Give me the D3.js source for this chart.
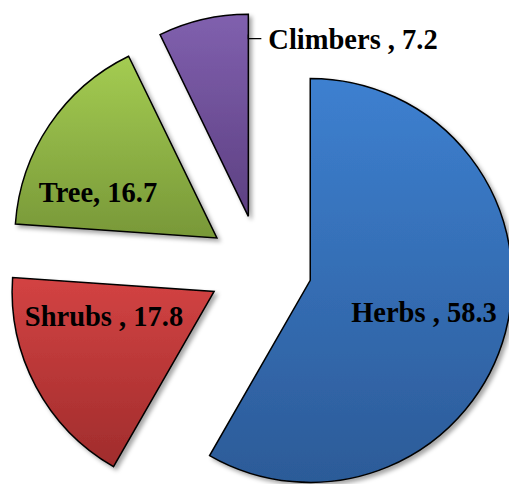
<!DOCTYPE html>
<html>
<head>
<meta charset="utf-8">
<script src="https://cdn.jsdelivr.net/npm/d3@7"></script>
<style>
  html, body { margin: 0; padding: 0; background: #fff; }
  svg { display: block; }
</style>
</head>
<body>
<div id="chart"></div>
<script>
// ---- data ----
const categories = ["Herbs", "Shrubs", "Tree", "Climbers"];
const values = [58.3, 17.8, 16.7, 7.2];
const labelTexts = ["Herbs , 58.3", "Shrubs , 17.8", "Tree, 16.7", "Climbers , 7.2"];

// ---- styles ----
const gradTop = ["#3d80d0", "#d34343", "#a4cc52", "#8060ae"];
const gradBottom = ["#2c5b98", "#a02c2c", "#789838", "#5d4082"];

const W = 509, H = 484;
const cx = 260, cy = 267, R = 202, explode = 52;
// label placement (angle in degrees clockwise from top, radius from pie centre)
const labelAngle = [105.3, 252.6, 294.8, null];
const labelRadius = [170, 163.5, 178.5, null];
const fontSize = 28.5;

const svg = d3.select("#chart").append("svg")
  .attr("width", W).attr("height", H);

const defs = svg.append("defs");
const filter = defs.append("filter").attr("id", "shadow")
  .attr("x", "-20%").attr("y", "-20%").attr("width", "140%").attr("height", "140%");
filter.append("feDropShadow")
  .attr("dx", 3).attr("dy", 3).attr("stdDeviation", 2.2)
  .attr("flood-color", "#000").attr("flood-opacity", 0.35);

categories.forEach((c, i) => {
  const g = defs.append("linearGradient").attr("id", "grad" + i)
    .attr("x1", 0).attr("y1", 0).attr("x2", 0).attr("y2", 1);
  g.append("stop").attr("offset", "0%").attr("stop-color", gradTop[i]);
  g.append("stop").attr("offset", "100%").attr("stop-color", gradBottom[i]);
});

const pie = d3.pie().sort(null).value(d => d)
  .startAngle(0).endAngle(2 * Math.PI);
const arcs = pie(values);
const arc = d3.arc().innerRadius(0).outerRadius(R);

const root = svg.append("g").attr("transform", `translate(${cx},${cy})`);

const slices = root.selectAll("g.slice").data(arcs).join("g")
  .attr("class", "slice")
  .attr("transform", d => {
    const a = (d.startAngle + d.endAngle) / 2;
    return `translate(${Math.sin(a) * explode},${-Math.cos(a) * explode})`;
  });

slices.append("path")
  .attr("d", arc)
  .attr("fill", (d, i) => `url(#grad${i})`)
  .attr("stroke", "#000")
  .attr("stroke-width", 1.5)
  .attr("stroke-linejoin", "miter")
  .attr("filter", "url(#shadow)");

const font = "'Liberation Serif', 'Times New Roman', serif";

// inside labels
arcs.forEach((d, i) => {
  if (labelAngle[i] == null) return;
  const a = labelAngle[i] * Math.PI / 180;
  root.append("text")
    .attr("x", Math.sin(a) * labelRadius[i])
    .attr("y", -Math.cos(a) * labelRadius[i])
    .attr("dy", "0.35em")
    .attr("text-anchor", "middle")
    .attr("font-family", font)
    .attr("font-weight", "bold")
    .attr("font-size", fontSize)
    .attr("fill", "#000")
    .text(labelTexts[i]);
});

// outside label for the last (small) slice, with leader line
{
  const i = 3, d = arcs[i];
  const a = (d.startAngle + d.endAngle) / 2;
  const ox = Math.sin(a) * explode, oy = -Math.cos(a) * explode;
  const edgeX = ox + Math.sin(d.endAngle) * R;
  const yLine = oy - R * 0.88;
  root.append("path")
    .attr("d", `M${edgeX},${yLine - 4}V${yLine}H${edgeX + 13}`)
    .attr("stroke", "#000").attr("stroke-width", 1.3).attr("fill", "none");
  root.append("text")
    .attr("x", edgeX + 20)
    .attr("y", yLine)
    .attr("dy", "0.35em")
    .attr("text-anchor", "start")
    .attr("font-family", font)
    .attr("font-weight", "bold")
    .attr("font-size", fontSize)
    .attr("fill", "#000")
    .text(labelTexts[i]);
}
</script>
</body>
</html>
